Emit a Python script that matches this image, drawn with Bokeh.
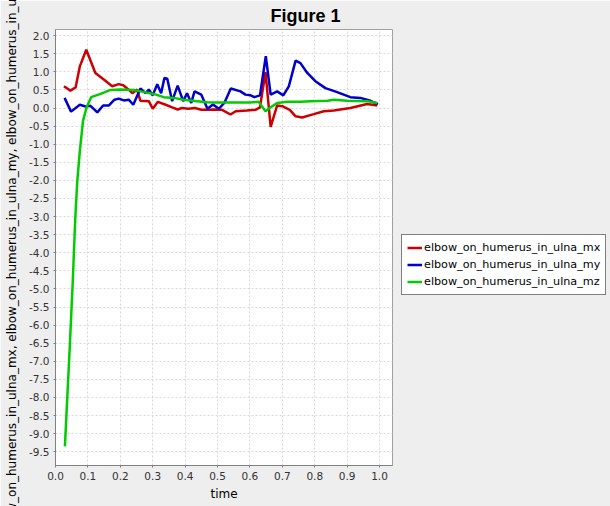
from bokeh.plotting import figure
from bokeh.embed import file_html
from bokeh.resources import INLINE
from bokeh.models import Legend, LegendItem, FixedTicker, NumeralTickFormatter, Range1d

# ---- data ----
mx_t = [0.026, 0.046, 0.062, 0.075, 0.095, 0.123, 0.150, 0.175, 0.195, 0.209, 0.224, 0.237,
        0.252, 0.262, 0.288, 0.300, 0.316, 0.340, 0.360, 0.377, 0.390, 0.410, 0.430, 0.450,
        0.470, 0.489, 0.514, 0.540, 0.556, 0.590, 0.617, 0.631, 0.648, 0.664, 0.684, 0.700,
        0.723, 0.741, 0.761, 0.797, 0.828, 0.859, 0.910, 0.962, 0.993]
mx = [0.60, 0.48, 0.57, 1.15, 1.61, 0.97, 0.78, 0.60, 0.66, 0.63, 0.52, 0.41,
      0.51, 0.20, 0.19, -0.02, 0.17, 0.09, 0.02, -0.04, 0.00, -0.02, 0.00, -0.05,
      -0.05, -0.04, -0.05, -0.18, -0.09, -0.07, -0.05, 0.02, 0.99, -0.52, 0.07, 0.05,
      -0.05, -0.23, -0.26, -0.17, -0.09, -0.07, 0.00, 0.11, 0.07]

my_t = [0.028, 0.048, 0.075, 0.093, 0.108, 0.129, 0.147, 0.165, 0.182, 0.195, 0.211, 0.226,
        0.240, 0.262, 0.278, 0.288, 0.300, 0.314, 0.326, 0.336, 0.345, 0.360, 0.377, 0.394,
        0.406, 0.419, 0.429, 0.450, 0.469, 0.486, 0.504, 0.521, 0.541, 0.571, 0.586, 0.602,
        0.614, 0.631, 0.649, 0.664, 0.684, 0.703, 0.720, 0.741, 0.756, 0.777, 0.802, 0.833,
        0.869, 0.910, 0.941, 0.972, 0.995]
my = [0.28, -0.10, 0.09, 0.04, 0.06, -0.12, 0.07, 0.07, 0.23, 0.26, 0.21, 0.23,
      0.09, 0.54, 0.41, 0.51, 0.35, 0.66, 0.41, 0.83, 0.81, 0.19, 0.62, 0.19,
      0.41, 0.14, 0.46, 0.37, -0.02, 0.10, -0.02, 0.14, 0.54, 0.46, 0.37, 0.35,
      0.30, 0.35, 1.43, 0.37, 0.46, 0.35, 0.60, 1.31, 1.24, 0.97, 0.74, 0.55,
      0.44, 0.30, 0.28, 0.20, 0.11]

mz_t = [0.029, 0.044, 0.053, 0.061, 0.067, 0.075, 0.085, 0.096, 0.110, 0.139, 0.170, 0.200,
        0.242, 0.252, 0.303, 0.334, 0.365, 0.396, 0.437, 0.468, 0.500, 0.550, 0.600, 0.627,
        0.648, 0.664, 0.684, 0.715, 0.756, 0.787, 0.839, 0.860, 0.900, 0.962, 0.993]
mz = [-9.35, -6.60, -4.85, -3.05, -2.05, -1.20, -0.35, 0.02, 0.30, 0.39, 0.50, 0.51,
      0.50, 0.48, 0.39, 0.30, 0.28, 0.23, 0.19, 0.16, 0.15, 0.15, 0.15, 0.17,
      -0.09, 0.02, 0.14, 0.17, 0.17, 0.19, 0.20, 0.23, 0.20, 0.19, 0.14]

series_names = ["elbow_on_humerus_in_ulna_mx", "elbow_on_humerus_in_ulna_my", "elbow_on_humerus_in_ulna_mz"]
series_colors = ["#CC0000", "#0000CC", "#00CC00"]
x_ticks = [round(0.1 * i, 1) for i in range(11)]
y_ticks = [round(-9.5 + 0.5 * i, 1) for i in range(24)]

FONT = "DejaVu Sans"
BG = "#EEEEEE"

p = figure(frame_width=337, frame_height=436, output_backend="svg", toolbar_location=None,
           x_range=Range1d(0.0, 1.04), y_range=Range1d(-9.88, 2.17),
           min_border_left=55, min_border_right=0, min_border_top=28, min_border_bottom=42)
p.background_fill_color = "white"
p.border_fill_color = BG
p.outline_line_color = "#A0A0A0"

p.title.text = "Figure 1"
p.title.text_font = "Liberation Sans"
p.title.text_font_size = "18px"
p.title.text_font_style = "bold"
p.title.align = "left"
p.title.offset = 215
p.title.standoff = 7
p.title.text_color = "black"

renderers = []
for t, v, c in zip([mx_t, my_t, mz_t], [mx, my, mz], series_colors):
    r = p.line(t, v, line_color=c, line_width=2.5)
    renderers.append(r)

legend = Legend(items=[LegendItem(label=n, renderers=[r]) for n, r in zip(series_names, renderers)],
                location=(9, 170), orientation="vertical")
legend.label_text_font = FONT
legend.label_text_font_size = "11.2px"
legend.label_text_color = "black"
legend.border_line_color = "black"
legend.border_line_width = 1
legend.background_fill_color = "white"
legend.background_fill_alpha = 1.0
legend.glyph_width = 15
legend.glyph_height = 15
legend.label_standoff = 2
legend.spacing = 2
legend.padding = 5
legend.margin = 0
p.add_layout(legend, "right")

for ax in (p.xaxis[0], p.yaxis[0]):
    ax.axis_line_color = "#808080"
    ax.major_tick_line_color = "#808080"
    ax.major_tick_out = 2
    ax.major_tick_in = 0
    ax.minor_tick_line_color = None
    ax.major_label_text_font = FONT
    ax.major_label_text_font_size = "10.5px"
    ax.major_label_text_color = "#333333"
    ax.axis_label_text_font = FONT
    ax.axis_label_text_font_size = "12px"
    ax.axis_label_text_font_style = "normal"
    ax.axis_label_text_color = "black"
    ax.formatter = NumeralTickFormatter(format="0.0")

p.xaxis.ticker = FixedTicker(ticks=x_ticks)
p.yaxis.ticker = FixedTicker(ticks=y_ticks)
p.xaxis.axis_label = "time"
p.yaxis.axis_label = ", ".join(series_names)
p.xaxis.major_label_standoff = 4
p.yaxis.major_label_standoff = 4
p.xaxis.axis_label_standoff = 4
p.yaxis.axis_label_standoff = 7

p.xgrid.grid_line_color = "#D8D8D8"
p.ygrid.grid_line_color = "#D8D8D8"
p.xgrid.grid_line_dash = "2 2"
p.ygrid.grid_line_dash = "2 2"

open("out.html", "w").write(file_html(p, INLINE))
